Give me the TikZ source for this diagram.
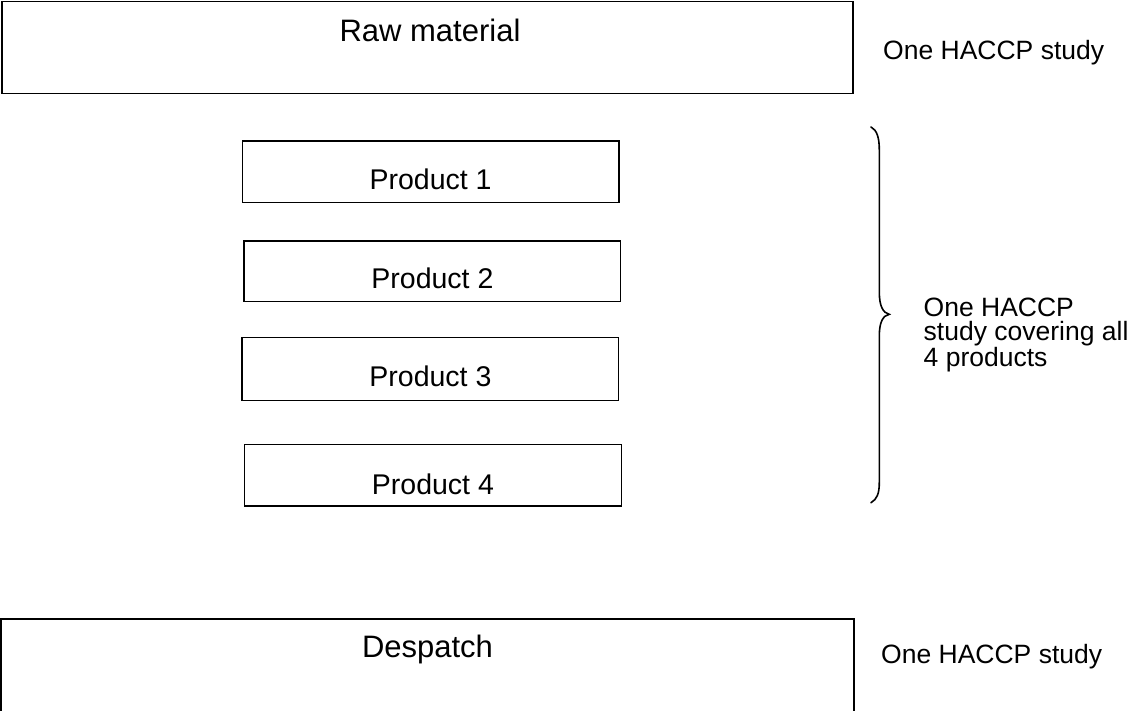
\documentclass[tikz,border=0pt]{standalone}
\usepackage{fontspec}
\setmainfont{Liberation Sans}
\begin{document}
\begin{tikzpicture}[x=1pt,y=-1pt,
  box/.style={draw=black, line width=1.3pt, inner sep=0pt, rectangle},
  prod/.style={box, minimum width=376.7pt},
  bigtext/.style={font=\fontsize{31}{37}\selectfont, anchor=base, inner sep=0pt},
  ptext/.style={font=\fontsize{28.5}{34}\selectfont, anchor=base, inner sep=0pt},
  side/.style={font=\fontsize{26.5}{24.5}\selectfont, inner sep=0pt, align=left},
  bracestyle/.style={draw=black, line width=1.6pt, line cap=round}]
\clip (0,0) rectangle (1131,710);
% main boxes
\node[box, minimum width=851pt, minimum height=91.6pt] (raw) at (427.5,47.5) {};
\node[box, minimum width=853pt, minimum height=122pt] (desp) at (427.5,680) {};
\node[bigtext] (rawt) at (430,41) {Raw material};
\node[bigtext] (despt) at (427.5,657) {Despatch};
% product boxes
\node[prod, minimum height=61.3pt] (p1) at (430.6,171.7) {};
\node[prod, minimum height=60.7pt] (p2) at (432.4,271.4) {};
\node[prod, minimum height=63pt]   (p3) at (430.4,369.2) {};
\node[prod, minimum height=61.7pt] (p4) at (432.9,475.2) {};
\node[ptext] (p1t) at (430.6,189.3) {Product 1};
\node[ptext] (p2t) at (432.4,288.3) {Product 2};
\node[ptext] (p3t) at (430.4,386.7) {Product 3};
\node[ptext] (p4t) at (432.9,494.3) {Product 4};
% side labels
\node[side, anchor=base west] (s1) at (883,59) {One HACCP study};
\node[side, anchor=base west] (s3) at (881,663) {One HACCP study};
\node[side, anchor=north west] (s2) at (923.5,297.5) {One HACCP\\study covering all\\4 products};
% brace
\coordinate (btop) at (871,127);
\coordinate (btip) at (889.3,314.3);
\coordinate (bbot) at (871,502.7);
\draw[bracestyle] (btop) .. controls (877,130) and (879.3,138) .. (879.3,150)
  -- (879.3,292) .. controls (879.3,306) and (883,313) .. (btip)
  .. controls (883,315.5) and (879.3,322) .. (879.3,336)
  -- (879.3,482) .. controls (879.3,494) and (877,499) .. (bbot);
\end{tikzpicture}
\end{document}
